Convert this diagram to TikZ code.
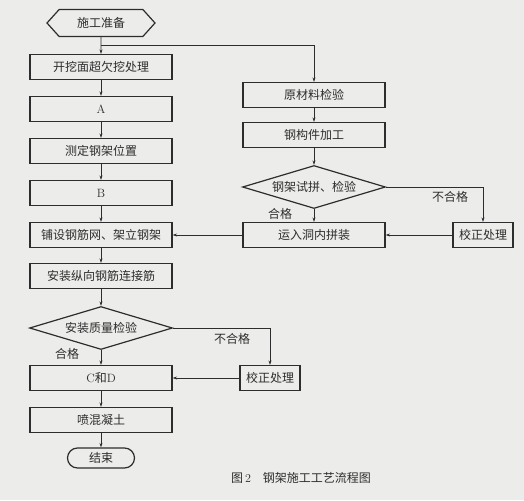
\documentclass[tikz,border=0pt]{standalone}
\usepackage{fontspec}
\newfontfamily\cjk{Noto Sans CJK SC}
\usetikzlibrary{positioning, arrows.meta, shapes.geometric, shapes.misc, shapes.symbols}
\definecolor{pagebg}{RGB}{236,236,234}
\definecolor{ink}{RGB}{45,45,45}
\tikzset{
  txt/.style      = {font=\cjk\fontsize{12}{14}\selectfont, text=ink},
  box/.style      = {rectangle, draw=ink, line width=1.2pt, minimum width=142pt, minimum height=25pt, inner sep=0pt, txt},
  fixbox/.style   = {box, minimum width=60pt},
  check/.style    = {diamond, draw=ink, line width=1.2pt, aspect=3.3, minimum width=143pt, minimum height=43pt, inner sep=0pt, txt},
  startbox/.style = {signal, signal to=west and east, signal pointer angle=96, draw=ink, line width=1.2pt, minimum width=108pt, minimum height=27pt, inner sep=0pt, txt},
  stopbox/.style  = {rounded rectangle, draw=ink, line width=1.2pt, minimum width=67pt, minimum height=20pt, inner sep=0pt, txt},
  arr/.style      = {-{Stealth[length=4.5pt, width=3pt]}, draw=ink, line width=0.7pt}
}
\begin{document}
\begin{tikzpicture}[x=1pt, y=-1pt]
        \fill[pagebg] (0,0) rectangle (524,500);
        \useasboundingbox (0,0) rectangle (524,500);
        % left column
        \node[startbox] (start) at (101, 23)  {施工准备};
        \node[box]      (wa)    at (101, 67)  {开挖面超欠挖处理};
        \node[box]      (a)     at (101, 109) {\rmfamily A};
        \node[box]      (cd)    at (101, 151) {测定钢架位置};
        \node[box]      (b)     at (101, 193) {\rmfamily B};
        \node[box]      (pu)    at (101, 235) {铺设钢筋网、架立钢架};
        \node[box]      (az)    at (101, 276) {安装纵向钢筋连接筋};
        \node[check]    (zj)    at (101, 328) {安装质量检验};
        \node[box]      (cnd)   at (101, 378) {{\rmfamily C}和{\rmfamily D}};
        \node[box]      (pen)   at (101, 420) {喷混凝土};
        \node[stopbox]  (stop)  at (101, 458) {结束};
        \node[fixbox]   (jz2)   at (270, 378) {校正处理};
        % right column
        \node[box]      (ycl)   at (314, 95)  {原材料检验};
        \node[box]      (jg)    at (314, 135) {钢构件加工};
        \node[check]    (sp)    at (314, 187) {钢架试拼、检验};
        \node[box]      (yr)    at (314, 235) {运入洞内拼装};
        \node[fixbox]   (jz1)   at (483, 235) {校正处理};
        \coordinate (fork) at (101, 45);
        \draw[arr] (start) -- (wa);
        \draw[arr] (fork) -| (ycl);
        \draw[arr] (wa) -- (a);
        \draw[arr] (a) -- (cd);
        \draw[arr] (cd) -- (b);
        \draw[arr] (b) -- (pu);
        \draw[arr] (pu) -- (az);
        \draw[arr] (az) -- (zj);
        \draw[arr] (zj) -- (cnd);
        \draw[arr] (zj.east) -| (jz2);
        \draw[arr] (jz2) -- (cnd);
        \draw[arr] (cnd) -- (pen);
        \draw[arr] (pen) -- (stop);
        \draw[arr] (ycl) -- (jg);
        \draw[arr] (jg) -- (sp);
        \draw[arr] (sp) -- (yr);
        \draw[arr] (sp.east) -| (jz1);
        \draw[arr] (jz1) -- (yr);
        \draw[arr] (yr) -- (pu);
        \node[txt] (ok1)  at (67, 354)  {合格};
        \node[txt] (bad1) at (232, 339) {不合格};
        \node[txt] (ok2)  at (280, 214) {合格};
        \node[txt] (bad2) at (450, 197) {不合格};
        \node[txt] (cap)  at (301, 478) {图{\rmfamily\,2}\quad 钢架施工工艺流程图};
      \end{tikzpicture}
\end{document}
